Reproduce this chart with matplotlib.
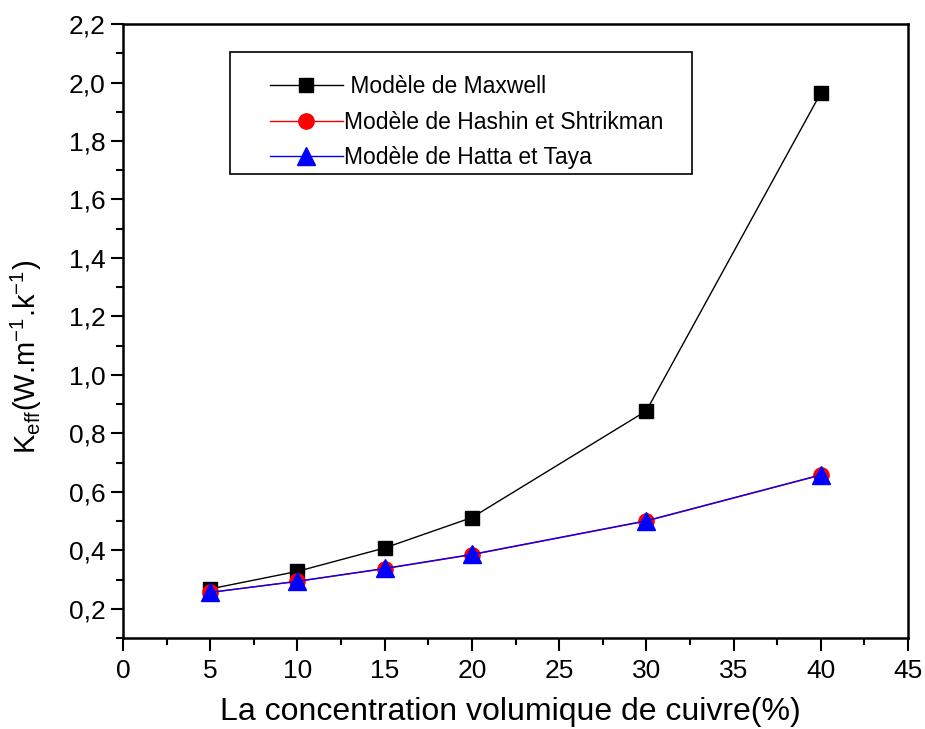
import matplotlib
matplotlib.use("Agg")
import matplotlib.pyplot as plt
from matplotlib.ticker import MultipleLocator, FuncFormatter
from matplotlib.patches import Rectangle

plt.rcParams['font.family'] = ['Liberation Sans', 'DejaVu Sans']
plt.rcParams['mathtext.fontset'] = 'custom'
plt.rcParams['mathtext.rm'] = 'Liberation Sans'
plt.rcParams['mathtext.it'] = 'Liberation Sans'

concentration = [5, 10, 15, 20, 30, 40]
maxwell = [0.268, 0.328, 0.408, 0.512, 0.877, 1.964]
hashin = [0.256, 0.294, 0.337, 0.385, 0.500, 0.657]
hatta = [0.256, 0.294, 0.338, 0.386, 0.501, 0.658]

fig = plt.figure(figsize=(9.25, 7.29), dpi=100)
ax = fig.add_axes([0.133, 0.1248, 0.8486, 0.8422])

ax.plot(concentration, maxwell, color='black', lw=1, marker='s', ms=10,
        mfc='black', mec='black', label=' Modèle de Maxwell')
ax.plot(concentration, hashin, color='red', lw=1, marker='o', ms=11,
        mfc='red', mec='red', label='Modèle de Hashin et Shtrikman')
ax.plot(concentration, hatta, color='blue', lw=1, marker='^', ms=13,
        mfc='blue', mec='blue', label='Modèle de Hatta et Taya')

ax.set_xlim(0, 45)
ax.set_ylim(0.1, 2.2)
ax.xaxis.set_major_locator(MultipleLocator(5))
ax.xaxis.set_minor_locator(MultipleLocator(2.5))
ax.yaxis.set_major_locator(MultipleLocator(0.2))
ax.yaxis.set_minor_locator(MultipleLocator(0.1))
ax.yaxis.set_major_formatter(FuncFormatter(lambda v, p: f"{v:.1f}".replace('.', ',')))

ax.tick_params(which='both', direction='out', top=False, right=False, labelsize=19, width=1.5)
ax.tick_params(which='major', length=9)
ax.tick_params(which='minor', length=5)
ax.tick_params(axis='x', pad=6)
for s in ax.spines.values():
    s.set_linewidth(1.8)

ax.set_xlabel('La concentration volumique de cuivre(%)', fontsize=23)
ax.xaxis.set_label_coords(0.494, -0.0965)
ax.set_ylabel(r'K$_{\mathregular{eff}}$(W.m$^{\mathregular{-1}}$.k$^{\mathregular{-1}}$)', fontsize=21)
ax.yaxis.set_label_coords(-0.1006, 0.4577)

leg = ax.legend(loc='upper left', bbox_to_anchor=(0.187, 0.917), fontsize=16.5,
                frameon=False, handlelength=3.2, borderpad=0, labelspacing=0.55,
                handletextpad=0.05, borderaxespad=0)

frame = Rectangle((0.136, 0.756), 0.589, 0.198, transform=ax.transAxes,
                  fill=False, edgecolor='black', linewidth=1.2, zorder=5)
ax.add_patch(frame)

fig.savefig('out.png', dpi=100)
